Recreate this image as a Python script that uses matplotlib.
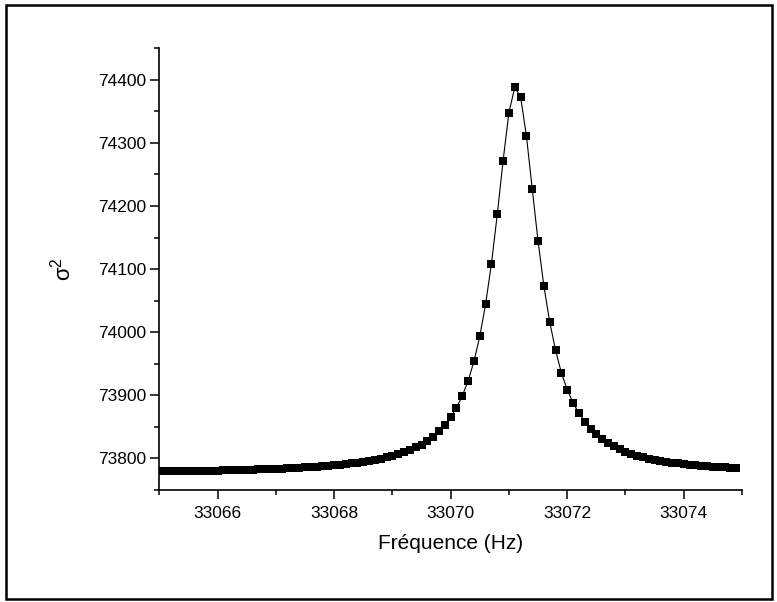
import matplotlib
matplotlib.use("Agg")
import matplotlib.pyplot as plt
from matplotlib.patches import Rectangle
from matplotlib.ticker import MultipleLocator
import numpy as np

freq = [
    33065.0, 33065.1, 33065.2, 33065.3, 33065.4, 33065.5, 33065.6, 33065.7, 33065.8, 33065.9,
    33066.0, 33066.1, 33066.2, 33066.3, 33066.4, 33066.5, 33066.6, 33066.7, 33066.8, 33066.9,
    33067.0, 33067.1, 33067.2, 33067.3, 33067.4, 33067.5, 33067.6, 33067.7, 33067.8, 33067.9,
    33068.0, 33068.1, 33068.2, 33068.3, 33068.4, 33068.5, 33068.6, 33068.7, 33068.8, 33068.9,
    33069.0, 33069.1, 33069.2, 33069.3, 33069.4, 33069.5, 33069.6, 33069.7, 33069.8, 33069.9,
    33070.0, 33070.1, 33070.2, 33070.3, 33070.4, 33070.5, 33070.6, 33070.7, 33070.8, 33070.9,
    33071.0, 33071.1, 33071.2, 33071.3, 33071.4, 33071.5, 33071.6, 33071.7, 33071.8, 33071.9,
    33072.0, 33072.1, 33072.2, 33072.3, 33072.4, 33072.5, 33072.6, 33072.7, 33072.8, 33072.9,
    33073.0, 33073.1, 33073.2, 33073.3, 33073.4, 33073.5, 33073.6, 33073.7, 33073.8, 33073.9,
    33074.0, 33074.1, 33074.2, 33074.3, 33074.4, 33074.5, 33074.6, 33074.7, 33074.8, 33074.9,
]
sigma2 = [
    73779.4, 73779.5, 73779.6, 73779.8, 73779.9, 73780.0, 73780.2, 73780.4, 73780.5, 73780.7,
    73780.9, 73781.1, 73781.3, 73781.6, 73781.8, 73782.0, 73782.3, 73782.6, 73782.9, 73783.3,
    73783.6, 73784.0, 73784.4, 73784.9, 73785.4, 73785.9, 73786.5, 73787.1, 73787.8, 73788.5,
    73789.3, 73790.2, 73791.2, 73792.2, 73793.5, 73794.8, 73796.2, 73797.9, 73799.8, 73801.9,
    73804.3, 73807.0, 73810.1, 73813.7, 73817.9, 73821.8, 73827.3, 73834.7, 73842.8, 73853.2,
    73865.0, 73880.2, 73899.4, 73922.8, 73954.2, 73993.4, 74044.7, 74108.8, 74186.6, 74272.0,
    74348.0, 74388.0, 74373.0, 74311.0, 74227.0, 74144.0, 74073.0, 74016.0, 73971.5, 73935.5,
    73909.2, 73888.1, 73871.8, 73858.0, 73847.0, 73838.5, 73831.0, 73824.4, 73819.0, 73814.6,
    73810.8, 73807.5, 73804.6, 73802.1, 73799.9, 73798.0, 73796.3, 73794.8, 73793.5, 73792.3,
    73791.2, 73790.2, 73789.3, 73788.5, 73787.8, 73787.1, 73786.5, 73786.0, 73785.5, 73785.0,
]

plt.rcParams['font.family'] = ['Liberation Sans', 'DejaVu Sans']
plt.rcParams['mathtext.fontset'] = 'custom'
plt.rcParams['mathtext.rm'] = 'Liberation Sans'

fig = plt.figure(figsize=(7.77, 6.02), dpi=100)
ax = fig.add_axes([0.205, 0.186, 0.750, 0.734])

ax.plot(freq, sigma2, color='black', lw=0.8, marker='s', ms=6.2,
        mfc='black', mec='black', mew=0)

ax.set_xlim(33065, 33075)
ax.set_ylim(73750, 74450)
ax.xaxis.set_major_locator(MultipleLocator(2))
ax.xaxis.set_minor_locator(MultipleLocator(1))
ax.yaxis.set_major_locator(MultipleLocator(100))
ax.yaxis.set_minor_locator(MultipleLocator(50))

for side in ['top', 'right']:
    ax.spines[side].set_visible(False)
for side in ['left', 'bottom']:
    ax.spines[side].set_linewidth(1.2)

ax.tick_params(which='major', direction='out', length=6.5, width=1.1,
               labelsize=12.5, pad=3)
ax.tick_params(which='minor', direction='out', length=3.5, width=1.1)
ax.tick_params(axis='x', which='major', pad=5)

ax.set_xlabel('Fréquence (Hz)', fontsize=15, labelpad=9)
ax.set_ylabel(r'$\mathregular{\sigma^2}$', fontsize=16, labelpad=16)

# outer frame around the whole picture
fig.add_artist(Rectangle((6 / 777, 3 / 602), 766 / 777, 594 / 602,
                         transform=fig.transFigure, fill=False,
                         edgecolor='black', lw=1.8))

fig.savefig('out.png', dpi=100)
